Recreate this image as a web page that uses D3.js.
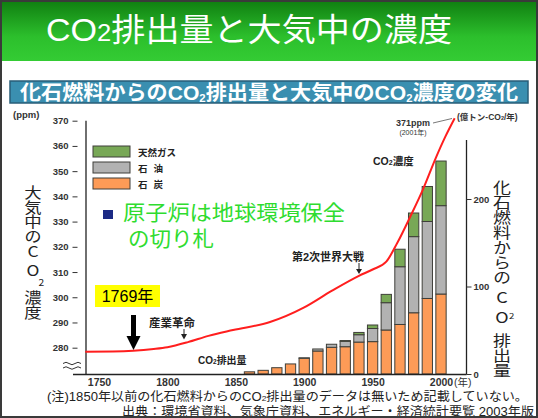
<!DOCTYPE html>
<html><head><meta charset="utf-8">
<script src="https://cdn.jsdelivr.net/npm/d3@7"></script>
<style>
html,body{margin:0;padding:0;background:#fff;}
svg{display:block;}
text{font-family:"Liberation Sans","Noto Sans CJK JP",sans-serif;}
.vt{writing-mode:vertical-rl;text-orientation:upright;font-family:"Noto Sans CJK JP",sans-serif;}
</style></head><body>
<svg id="c" width="538" height="418"></svg>
<script>
// ---- data ----
const barYears = [1860,1870,1880,1890,1900,1910,1920,1930,1940,1950,1960,1970,1980,1990,2000];
const coal = [2.5,4.2,7.2,11.5,18,26.3,30.5,31.2,36.5,37,50.3,56.6,70,86.3,91.4];
const oil  = [0,0,0,0,0.5,2.3,3.5,6.2,8.4,15,31.2,66,87,88,101];
const gas  = [0,0,0,0,0,0,0,0.8,2.6,4,9.5,20,27,40,51];
const concYears = [1740,1760,1775,1790,1800,1815,1830,1848,1875,1900,1920,1940,1950,1960,1968,1978,1987,1996,2003,2010];
const concPpm   = [278.4,278.5,278.8,279.5,280.2,282.2,284.7,287,290.2,296,302.5,308.5,311,314.1,321.5,332.5,343,355,363.5,371];
const leftTicks = [280,290,300,310,320,330,340,350,360,370];
const rightTicks = [0,100,200];
const xTicks = [1750,1800,1850,1900,1950,2000];
const seriesKeys = ["coal","oil","gas"];
const legendLabels = ["天然ガス","石　油","石　炭"];

const svg = d3.select("#c");
const W = 538, H = 418;

svg.append("rect").attr("width",W).attr("height",H).attr("fill","#fff");

// title bar
const defs = svg.append("defs");
const g1 = defs.append("linearGradient").attr("id","tg").attr("x1",0).attr("y1",0).attr("x2",0).attr("y2",1);
g1.append("stop").attr("offset","0").attr("stop-color","#0f7d10");
g1.append("stop").attr("offset","0.6").attr("stop-color","#2cbf2c");
g1.append("stop").attr("offset","1").attr("stop-color","#34cc34");
svg.append("rect").attr("x",0).attr("y",0).attr("width",W).attr("height",61).attr("fill","url(#tg)");
const tt = svg.append("text").attr("x",46).attr("y",41).attr("fill","#fff").attr("font-size",32)
  .attr("textLength",406).attr("lengthAdjust","spacingAndGlyphs");
tt.append("tspan").text("CO");
tt.append("tspan").attr("font-size",24).text("2");
tt.append("tspan").text("排出量と大気中の濃度");

// subtitle bar
svg.append("rect").attr("x",10).attr("y",81).attr("width",518).attr("height",22)
  .attr("fill","#3a8fb0").attr("stroke","#285e78").attr("stroke-width",1.5);
const st = svg.append("text").attr("x",20).attr("y",100).attr("fill","#fff").attr("font-size",20.5).attr("font-weight","bold")
  .attr("textLength",498).attr("lengthAdjust","spacingAndGlyphs");
st.append("tspan").text("化石燃料からのCO");
st.append("tspan").attr("font-size",11).attr("dy",2).text("2");
st.append("tspan").attr("dy",-2).text("排出量と大気中のCO");
st.append("tspan").attr("font-size",11).attr("dy",2).text("2");
st.append("tspan").attr("dy",-2).text("濃度の変化");

// scales
const x = d3.scaleLinear().domain([1750,2000]).range([99,441]);
const yL = d3.scaleLinear().domain([280,370]).range([347.7,120.7]);
const yR = d3.scaleLinear().domain([0,200]).range([374,199]);
const axisY = 374.5, leftX = 86, rightX = 466.5;

// bars
const table = barYears.map((yr,i)=>({year:yr,coal:coal[i],oil:oil[i],gas:gas[i]}));
const stack = d3.stack().keys(seriesKeys)(table);
const colors = {coal:"#fd9b57",oil:"#b2b2b2",gas:"#78a856"};
const bw = 10.3;
svg.append("g").selectAll("g").data(stack).join("g")
  .attr("fill",d=>colors[d.key])
  .selectAll("rect").data(d=>d.filter(s=>s[1]-s[0]>0)).join("rect")
  .attr("x",d=>x(d.data.year)-bw/2).attr("width",bw)
  .attr("y",d=>yR(d[1])).attr("height",d=>yR(d[0])-yR(d[1]))
  .attr("stroke","#3f3f3a").attr("stroke-width",1);

// axes lines
svg.append("line").attr("x1",leftX).attr("x2",leftX).attr("y1",yL(370)).attr("y2",axisY).attr("stroke","#222").attr("stroke-width",1.3);
svg.append("line").attr("x1",73).attr("x2",rightX).attr("y1",axisY).attr("y2",axisY).attr("stroke","#222").attr("stroke-width",1.3);
svg.append("line").attr("x1",rightX).attr("x2",rightX).attr("y1",140).attr("y2",axisY).attr("stroke","#222").attr("stroke-width",1.3);

const styleAxis = (g,fs)=>{
  g.select(".domain").remove();
  g.selectAll("line").attr("stroke","#333");
  g.selectAll("text").attr("font-family","'Liberation Sans',Arial,sans-serif").attr("font-weight","bold").attr("font-size",fs).attr("fill","#333");
};
svg.append("g").attr("transform","translate(77.5,0)")
  .call(d3.axisLeft(yL).tickValues(leftTicks).tickSize(5).tickPadding(4)).call(g=>styleAxis(g,9.5));
svg.append("g").attr("transform",`translate(${rightX},0)`)
  .call(d3.axisRight(yR).tickValues(rightTicks).tickSize(5).tickPadding(2)).call(g=>styleAxis(g,9.5));
svg.append("g").attr("transform",`translate(0,${axisY})`)
  .call(d3.axisBottom(x).tickValues(xTicks).tickSize(0).tickPadding(4).tickFormat(d3.format("d"))).call(g=>styleAxis(g,10.5));
svg.append("text").attr("x",x(2000)+13).attr("y",386).attr("font-size",10.5).attr("fill","#333").text("(年)");

// break marks
[363.5,368].forEach(yy=>{
  svg.append("path").attr("d",`M63,${yy} q3,-2.5 6,0 t6,0 t6,0`).attr("fill","none").attr("stroke","#333").attr("stroke-width",1);
});

// concentration line
const conc = concYears.map((yr,i)=>({year:yr,ppm:concPpm[i]}));
svg.append("path").datum(conc)
  .attr("d",d3.line().x(d=>x(d.year)).y(d=>yL(d.ppm)).curve(d3.curveMonotoneX))
  .attr("fill","none").attr("stroke","#ff1e1e").attr("stroke-width",2);

// axis unit labels
svg.append("text").attr("x",13).attr("y",118).attr("font-size",9.5).attr("font-weight","bold").attr("fill","#333").text("(ppm)");
const ut = svg.append("text").attr("x",457).attr("y",120).attr("font-size",8.5).attr("font-weight","bold").attr("fill","#333");
ut.append("tspan").text("(億トン-CO");
ut.append("tspan").attr("font-size",5.5).text("2");
ut.append("tspan").text("/年)");

// 371ppm annotation
svg.append("text").attr("x",413).attr("y",125.5).attr("text-anchor","middle").attr("font-size",9).attr("font-weight","bold").attr("fill","#333").text("371ppm");
svg.append("text").attr("x",413).attr("y",134.5).attr("text-anchor","middle").attr("font-size",7).attr("fill","#333").text("(2001年)");
svg.append("line").attr("x1",433).attr("y1",123).attr("x2",452).attr("y2",118.5).attr("stroke","#555").attr("stroke-width",0.8);

// series labels
const cl = svg.append("text").attr("x",373).attr("y",165).attr("font-size",10.5).attr("font-weight","bold").attr("fill","#222");
cl.append("tspan").text("CO"); cl.append("tspan").attr("font-size",7).text("2"); cl.append("tspan").text("濃度");
const el = svg.append("text").attr("x",198).attr("y",364).attr("font-size",10).attr("font-weight","bold").attr("fill","#222");
el.append("tspan").text("CO"); el.append("tspan").attr("font-size",6.5).text("2"); el.append("tspan").text("排出量");

// events
svg.append("text").attr("x",328).attr("y",261).attr("text-anchor","middle").attr("font-size",11).attr("font-weight","bold").attr("fill","#222").text("第2次世界大戦");
svg.append("line").attr("x1",359).attr("x2",359).attr("y1",263).attr("y2",272).attr("stroke","#222").attr("stroke-width",1);
svg.append("path").attr("d","M356,269 L362,269 L359,274 Z").attr("fill","#222");
svg.append("text").attr("x",172).attr("y",327).attr("text-anchor","middle").attr("font-size",11.5).attr("font-weight","bold").attr("fill","#222").text("産業革命");
svg.append("line").attr("x1",184).attr("x2",184).attr("y1",329).attr("y2",337).attr("stroke","#222").attr("stroke-width",1);
svg.append("path").attr("d","M181,334 L187,334 L184,339.5 Z").attr("fill","#222");

// 1769 callout
svg.append("rect").attr("x",95).attr("y",285).attr("width",65).attr("height",22).attr("fill","#ffff00");
svg.append("text").attr("x",127.5).attr("y",302).attr("text-anchor","middle").attr("font-size",16).attr("fill","#000").text("1769年");
svg.append("rect").attr("x",131).attr("y",315).attr("width",5).attr("height",22).attr("fill","#000");
svg.append("path").attr("d","M126.5,336 L140.5,336 L133.5,350 Z").attr("fill","#000");

// legend
const leg = svg.append("g").attr("transform","translate(93,146)");
const legKeys = ["gas","oil","coal"];
legKeys.forEach((k,i)=>{
  leg.append("rect").attr("x",0).attr("y",i*16).attr("width",37).attr("height",11).attr("fill",colors[k]).attr("stroke","#3f3f3a").attr("stroke-width",1);
  const t = leg.append("text").attr("x",45).attr("y",i*16+9.5).attr("font-size",9.5).attr("font-weight","bold").attr("fill","#222").text(legendLabels[i]);
  if(i>0) t.attr("textLength",25).attr("lengthAdjust","spacing");
});

// nuclear message
svg.append("rect").attr("x",103).attr("y",210).attr("width",10).attr("height",9).attr("fill","#1c2a85");
svg.append("text").attr("x",123).attr("y",220).attr("font-size",21).attr("fill","#2fdc2f")
  .attr("textLength",222).attr("lengthAdjust","spacingAndGlyphs").text("原子炉は地球環境保全");
svg.append("text").attr("x",128).attr("y",246).attr("font-size",21).attr("fill","#2fdc2f")
  .attr("textLength",86).attr("lengthAdjust","spacingAndGlyphs").text("の切り札");

// vertical titles: one vertical text each
const vTitle = (cx, top, fs, parts)=>{
  const t = svg.append("text").attr("class","vt").attr("transform",`translate(${cx},0) scale(1.2,1)`)
    .attr("x",0).attr("y",top).attr("font-size",fs).attr("fill","#222");
  parts.forEach(p=>{ const s=t.append("tspan").text(p.t);
    if(p.dy) s.attr("dy",p.dy); if(p.dx) s.attr("dx",p.dx); if(p.fs) s.attr("font-size",p.fs); });
};
vTitle(33, 185.75, 14.5, [{t:"大気中の"},{t:"C",dy:1},{t:"O",dy:4.5},{t:"2",fs:8.5,dx:7},{t:"濃度",dx:-7,dy:4}]);
vTitle(502, 180, 15, [{t:"化石燃料からの"},{t:"C",dy:5},{t:"O",dy:5},{t:"2",fs:8,dx:8,dy:-13},{t:"排出量",dx:-8,dy:12.5}]);

// footnotes
const f1 = svg.append("text").attr("x",47).attr("y",401).attr("font-size",12.5).attr("fill","#222")
  .attr("textLength",481).attr("lengthAdjust","spacingAndGlyphs");
f1.append("tspan").text("(注)1850年以前の化石燃料からのCO");
f1.append("tspan").attr("font-size",8).text("2");
f1.append("tspan").text("排出量のデータは無いため記載していない。");
svg.append("text").attr("x",122).attr("y",415.5).attr("font-size",12.5).attr("fill","#222")
  .attr("textLength",412).attr("lengthAdjust","spacingAndGlyphs")
  .text("出典：環境省資料、気象庁資料、エネルギー・経済統計要覧 2003年版");

// frame
svg.append("rect").attr("x",1).attr("y",1).attr("width",W-2).attr("height",H-2).attr("fill","none").attr("stroke","#3a3a3a").attr("stroke-width",2);
</script>
</body></html>
